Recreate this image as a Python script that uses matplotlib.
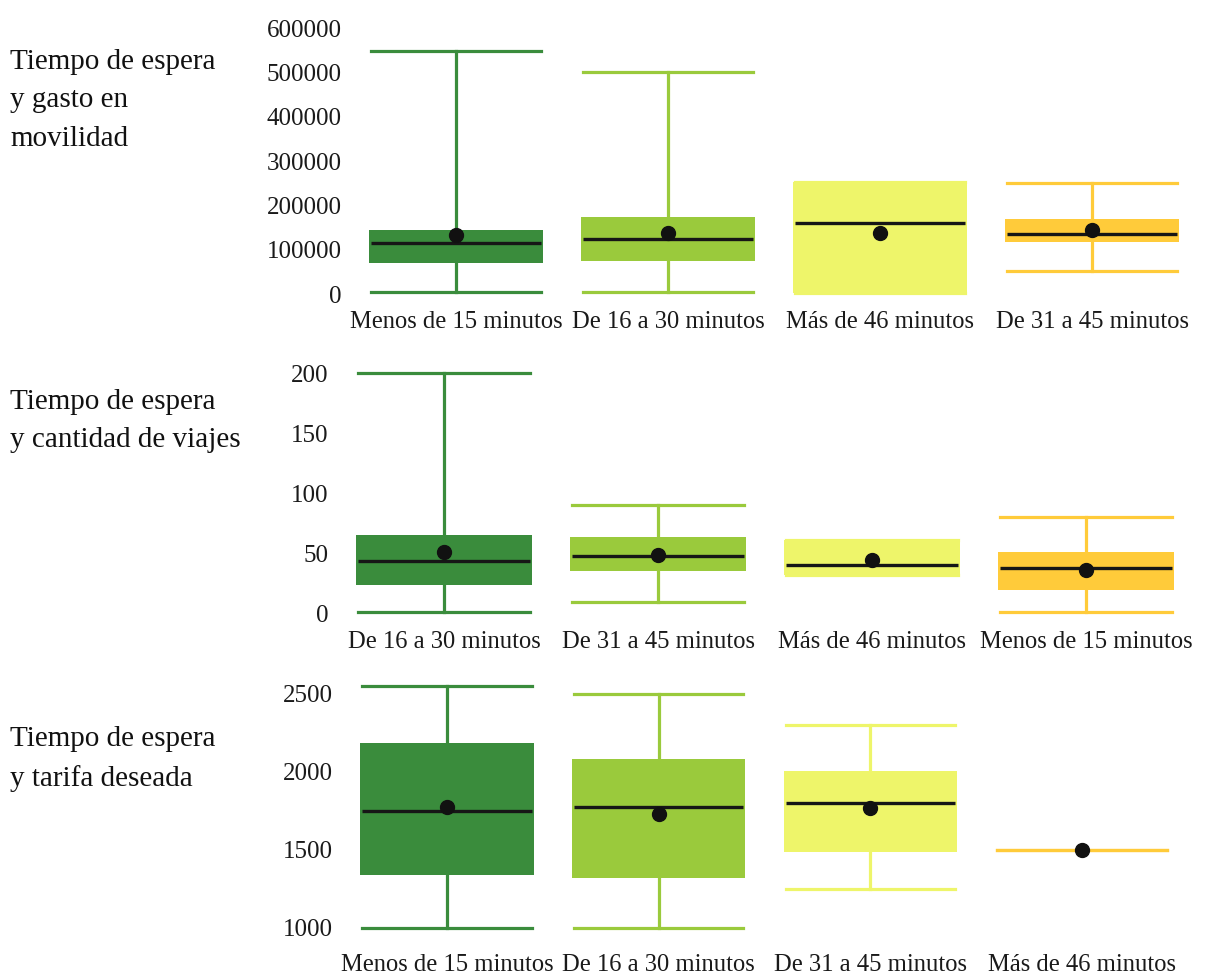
import matplotlib
matplotlib.use("Agg")
import matplotlib.pyplot as plt

plt.rcParams['font.family'] = ['Liberation Serif', 'DejaVu Serif']

# ---- data ----
row_labels = ["Tiempo de espera\ny gasto en\nmovilidad",
              "Tiempo de espera\ny cantidad de viajes",
              "Tiempo de espera\ny tarifa deseada"]

cats1 = ["Menos de 15 minutos", "De 16 a 30 minutos", "Más de 46 minutos", "De 31 a 45 minutos"]
whislo1 = [5000, 4000, 3000, 52000]
q1_1 = [70000, 75000, 3000, 118000]
med1 = [116000, 123500, 161000, 135000]
q3_1 = [144500, 174500, 253500, 169000]
whishi1 = [548500, 500000, 253500, 251000]
mean1 = [133000, 138000, 138000, 144500]
ticks1 = [0, 100000, 200000, 300000, 400000, 500000, 600000]

cats2 = ["De 16 a 30 minutos", "De 31 a 45 minutos", "Más de 46 minutos", "Menos de 15 minutos"]
whislo2 = [1, 9.5, 32, 1]
q1_2 = [23, 35, 32, 19]
med2 = [43, 47.5, 40, 37.5]
q3_2 = [65, 63, 61, 51]
whishi2 = [200, 90, 61, 80]
mean2 = [51, 48.5, 44.5, 35.5]
ticks2 = [0, 50, 100, 150, 200]

cats3 = ["Menos de 15 minutos", "De 16 a 30 minutos", "De 31 a 45 minutos", "Más de 46 minutos"]
whislo3 = [1000, 1000, 1248, 1500]
q1_3 = [1337, 1316, 1486, 1500]
med3 = [1747, 1774, 1796, 1500]
q3_3 = [2180, 2080, 2004, 1500]
whishi3 = [2546, 2495, 2297, 1500]
mean3 = [1774, 1727, 1768, 1500]
ticks3 = [1000, 1500, 2000, 2500]

colors = ["#3a8c3c", "#9aca3c", "#eef56a", "#ffcb3a"]

W, H = 1206, 980
fig = plt.figure(figsize=(W / 100, H / 100), dpi=100)


def px_axes(left, top, right, bottom):
    return fig.add_axes([left / W, 1 - bottom / H, (right - left) / W, (bottom - top) / H])


panels = [
    dict(cats=cats1, lo=whislo1, q1=q1_1, med=med1, q3=q3_1, hi=whishi1, mean=mean1,
         ticks=ticks1, box=(350, 20, 1198, 300), ylim=(-13500, 618500), xpad=8),
    dict(cats=cats2, lo=whislo2, q1=q1_2, med=med2, q3=q3_2, hi=whishi2, mean=mean2,
         ticks=ticks2, box=(337, 365, 1193, 620), ylim=(-5.8, 206.7), xpad=8),
    dict(cats=cats3, lo=whislo3, q1=q1_3, med=med3, q3=q3_3, hi=whishi3, mean=mean3,
         ticks=ticks3, box=(341, 680, 1188, 950), ylim=(857, 2585), xpad=3),
]

label_y = [49, 389, 726]

for p, lab, ly in zip(panels, row_labels, label_y):
    ax = px_axes(*p['box'])
    stats = []
    for i in range(4):
        stats.append(dict(label=p['cats'][i], whislo=p['lo'][i], q1=p['q1'][i], med=p['med'][i],
                          q3=p['q3'][i], whishi=p['hi'][i], mean=p['mean'][i], fliers=[]))
    res = ax.bxp(stats, positions=range(4), widths=0.82, capwidths=0.8, patch_artist=True,
                 showmeans=True, showfliers=False,
                 meanprops=dict(marker='o', markerfacecolor='#111111', markeredgecolor='#111111',
                                markersize=10),
                 medianprops=dict(color='#161616', linewidth=2.4),
                 whiskerprops=dict(linewidth=2.3),
                 capprops=dict(linewidth=2.3))
    for i in range(4):
        c = colors[i]
        res['boxes'][i].set_facecolor(c)
        res['boxes'][i].set_edgecolor('none')
        res['boxes'][i].set_zorder(2)
        for ln in res['whiskers'][2 * i:2 * i + 2] + res['caps'][2 * i:2 * i + 2]:
            ln.set_color(c)
            ln.set_zorder(1.5)
        res['medians'][i].set_zorder(3)
        res['medians'][i].set_xdata([i - 0.4, i + 0.4])
        res['means'][i].set_zorder(4)
        if p['q1'][i] == p['q3'][i]:
            res['medians'][i].set_visible(False)
    ax.set_xlim(-0.5, 3.5)
    ax.set_ylim(*p['ylim'])
    ax.set_yticks(p['ticks'])
    ax.set_yticklabels([str(t) for t in p['ticks']])
    ax.set_xticks(range(4))
    ax.set_xticklabels(p['cats'])
    ax.tick_params(length=0, labelsize=18, colors='#1a1a1a', pad=6)
    ax.tick_params(axis='x', pad=p['xpad'], labelsize=17.7)
    for s in ax.spines.values():
        s.set_visible(False)
    fig.text(10 / W, 1 - ly / H, lab, ha='left', va='top', fontsize=21,
             color='#111111', linespacing=1.62)

fig.savefig("out.png", dpi=100)
